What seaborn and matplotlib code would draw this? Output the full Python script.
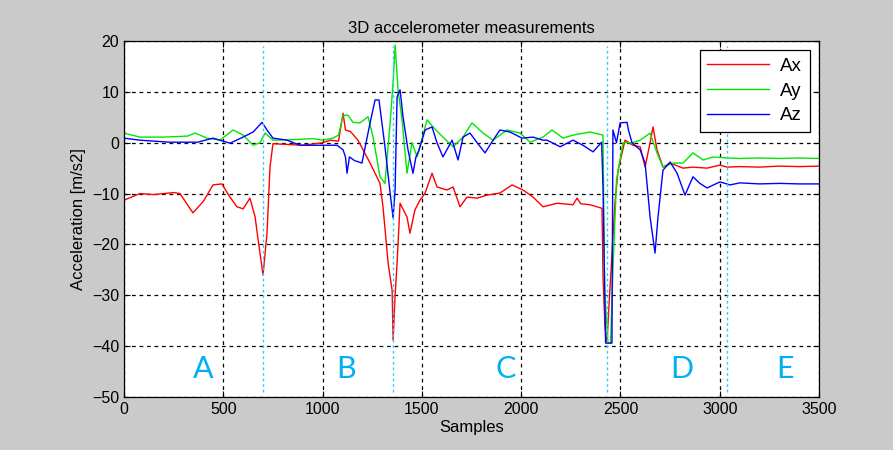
import matplotlib
matplotlib.use("Agg")
import matplotlib.pyplot as plt
import numpy as np
import pandas as pd
import seaborn as sns

# samples / values (keypoints along each trace)
ax_samples = [0, 80, 150, 250, 282, 347, 400, 448, 493, 530, 569, 600, 634, 660, 675,
              700, 720, 735, 750, 800, 900, 1000, 1040, 1080, 1103, 1115, 1140, 1178,
              1239, 1289, 1304, 1330, 1350, 1355, 1365, 1375, 1390, 1425, 1440, 1465,
              1490, 1516, 1551, 1576, 1626, 1657, 1692, 1727, 1778, 1828, 1893, 1954,
              2009, 2060, 2110, 2181, 2261, 2281, 2300, 2347, 2407, 2412, 2422, 2432,
              2445, 2460, 2472, 2488, 2523, 2563, 2599, 2624, 2649, 2664, 2684, 2714,
              2750, 2815, 2865, 2936, 3001, 3036, 3100, 3200, 3300, 3400, 3500]
ax_values = [-11.3, -10, -10.2, -9.8, -10, -13.8, -11.5, -8.3, -8.1, -10.5, -12.6, -13,
             -10.9, -14.6, -19, -26, -17.8, -4.8, -0.2, -0.3, -0.5, 0, 0.5, 0.3, 5.8,
             2.5, 2.2, 0.5, -4, -8, -12.6, -23.7, -29, -38.8, -30, -23.7, -11.9, -14.6,
             -17.8, -13.2, -11.3, -9.9, -6, -8.7, -9.3, -8.7, -12.6, -10.7, -10.9,
             -10.3, -9.9, -8.3, -9.3, -10.7, -12.6, -11.9, -12.2, -10.9, -12, -12.2,
             -12.9, -26.4, -36.3, -39.4, -30, -20, -11.9, -5.4, 0.5, -0.5, -0.8, -4.8,
             0, 3.1, -1.4, -4.8, -4, -5, -4.8, -5, -4.4, -4.8, -4.7, -4.8, -4.6, -4.7,
             -4.6]

ay_samples = [0, 80, 200, 320, 358, 418, 483, 549, 600, 650, 685, 710, 750, 850, 950,
              1000, 1052, 1080, 1103, 1128, 1153, 1188, 1229, 1254, 1289, 1314, 1340,
              1355, 1365, 1380, 1400, 1425, 1450, 1476, 1526, 1556, 1606, 1657, 1707,
              1752, 1808, 1858, 1929, 1994, 2045, 2110, 2155, 2211, 2261, 2347, 2412,
              2420, 2437, 2450, 2462, 2480, 2513, 2560, 2599, 2649, 2684, 2714, 2765,
              2815, 2865, 2916, 2966, 3036, 3100, 3200, 3300, 3400, 3500]
ay_values = [1.9, 1.1, 1.1, 1.3, 1.9, 0.9, 0.5, 2.5, 1.5, -0.5, 0, 1.9, 0.5, 0.6, 0.8,
             0.5, 0.9, 1.5, 5.4, 5.4, 4, 3.9, 5.1, 1.1, -6.7, -8, 3.9, 12, 19.2, 10.4,
             4.5, -6, 0, -2.8, 4.5, 3.1, 1.1, -0.8, 1.1, 3.9, 1.9, 0.5, 2.5, 1.9, 0.1,
             1.1, 2.5, 0.9, 1.5, 2.1, 1.5, -29, -39.4, -39.4, -25, -7.3, 0, 0, 0.5, 1.9,
             -2, -4.8, -4, -4, -2, -3.4, -2.8, -3, -3.1, -3, -3.1, -3, -3.1]

az_samples = [0, 80, 230, 370, 448, 534, 599, 650, 695, 720, 750, 821, 886, 987, 1073,
              1103, 1115, 1123, 1135, 1160, 1198, 1239, 1264, 1284, 1314, 1340, 1355,
              1365, 1375, 1390, 1405, 1430, 1455, 1470, 1485, 1516, 1551, 1576, 1606,
              1652, 1682, 1707, 1742, 1778, 1818, 1850, 1893, 1944, 2004, 2060, 2110,
              2130, 2196, 2261, 2311, 2362, 2405, 2412, 2425, 2457, 2462, 2480, 2498,
              2533, 2540, 2558, 2599, 2624, 2649, 2674, 2689, 2714, 2750, 2785, 2825,
              2865, 2900, 2936, 3001, 3051, 3102, 3200, 3300, 3400, 3500]
az_values = [0.9, 0.5, 0.1, 0.1, 0.9, -0.1, 1.1, 2.1, 4, 2.5, 0.9, 0.5, -0.5, -0.5,
             -0.5, -1.4, -2.8, -6, -2.8, -3.5, -4, 3.9, 8.4, 8.4, -0.8, -9.9, -14.8,
             -9.3, 9, 10.4, 5.1, -1.4, -6, -2.8, -1.5, 2.5, 3.1, 0, -2.8, 0.5, -3.4, 1.1,
             1.9, 0, -2, 0, 2.5, 2.1, 0.9, 1.1, 0.5, 0.5, -0.8, 0.5, -0.5, -1.8, 0.1,
             -8.7, -39.4, -39.4, 2.5, 0, 3.9, 4, 2.5, 0, -1.4, -4, -14.6, -21.7, -14.6,
             -5.4, -3.8, -6, -10.3, -6.7, -8, -8.9, -7.7, -8.3, -7.9, -8.1, -8.0, -8.1,
             -8.1]

phase_bounds = [700, 1355, 2432, 3036]
phase_labels = ["A", "B", "C", "D", "E"]
phase_label_x = [400, 1120, 1920, 2810, 3330]

df = pd.concat([
    pd.DataFrame({"Samples": ax_samples, "value": ax_values, "axis": "Ax"}),
    pd.DataFrame({"Samples": ay_samples, "value": ay_values, "axis": "Ay"}),
    pd.DataFrame({"Samples": az_samples, "value": az_values, "axis": "Az"}),
])

plt.rcParams["font.family"] = ["Liberation Sans", "DejaVu Sans"]

fig = plt.figure(figsize=(8.93, 4.5), dpi=100, facecolor="#cacaca")
ax = fig.add_axes([0.1389, 0.1178, 0.7783, 0.7911])
ax.set_facecolor("white")

sns.lineplot(data=df, x="Samples", y="value", hue="axis",
             palette={"Ax": "#ff0000", "Ay": "#00e600", "Az": "#0000ff"},
             estimator=None, sort=False, linewidth=1.0, ax=ax)

ax.set_xlim(0, 3500)
ax.set_ylim(-50, 20)
ax.set_xticks(np.arange(0, 3501, 500))
ax.set_yticks(np.arange(-50, 21, 10))
ax.grid(True, color="black", linestyle=(0, (3, 3)), linewidth=0.9)
ax.tick_params(direction="in", top=True, right=True, labelsize=11.5, length=4)
for s in ax.spines.values():
    s.set_color("black")
    s.set_linewidth(0.9)

ax.vlines(phase_bounds, -49, 19, colors="#33ccff", linestyles=(0, (2, 2)), linewidth=1.0)
for lx, lab in zip(phase_label_x, phase_labels):
    ax.text(lx, -44.5, lab, color="#00b0f0", fontsize=22, family="Lato",
            ha="center", va="center")

ax.set_title("3D accelerometer measurements", fontsize=12, pad=6)
ax.set_xlabel("Samples", fontsize=12, labelpad=2)
ax.set_ylabel("Acceleration [m/s2]", fontsize=12, labelpad=4)

leg = ax.legend(loc="upper right", fontsize=13.5, frameon=True, fancybox=False,
                handlelength=3.3, borderaxespad=0.5, labelspacing=0.4,
                handletextpad=0.6, borderpad=0.4)
leg.get_frame().set_edgecolor("black")
leg.get_frame().set_linewidth(0.9)
leg.get_frame().set_alpha(1)
leg.set_title(None)

fig.savefig("out.png", dpi=100, facecolor=fig.get_facecolor())
